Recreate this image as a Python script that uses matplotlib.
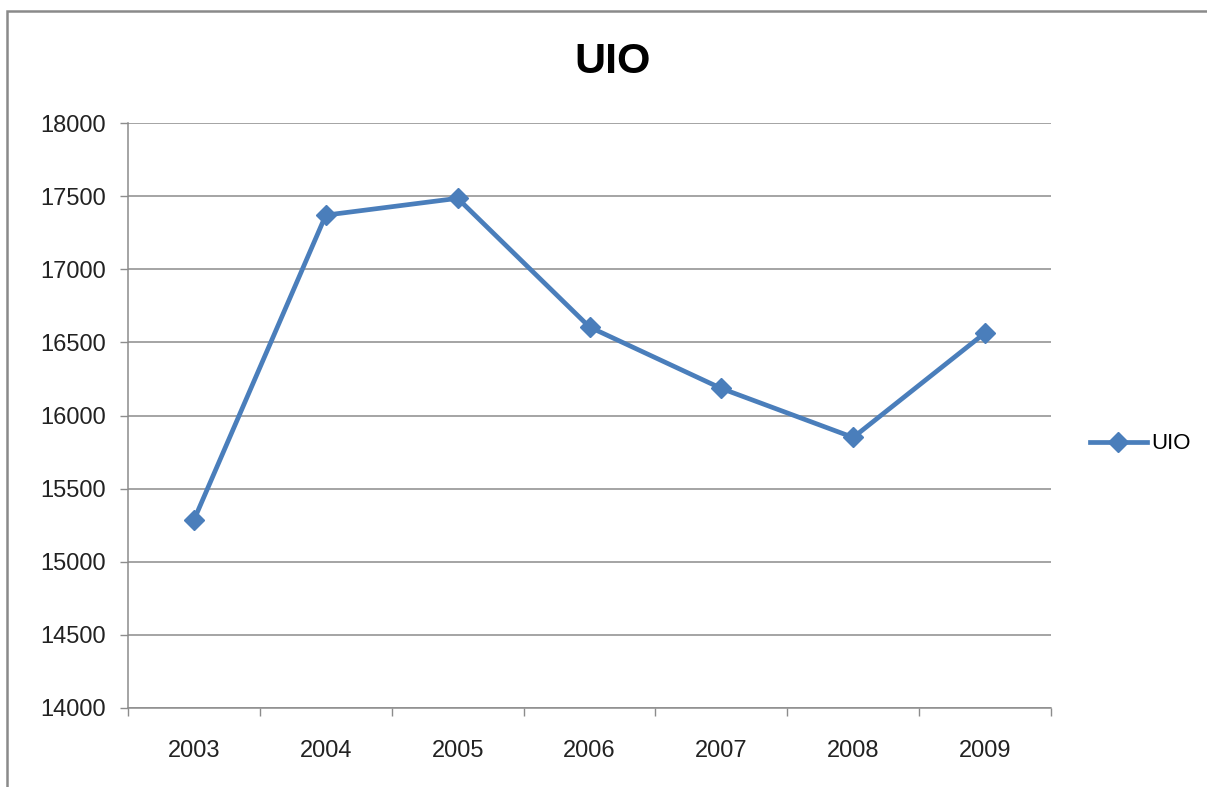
import matplotlib
matplotlib.use("Agg")
import matplotlib.pyplot as plt
from matplotlib.patches import Rectangle
from matplotlib.ticker import FixedLocator, NullFormatter

plt.rcParams["font.family"] = ["Liberation Sans", "DejaVu Sans"]

years = ["2003", "2004", "2005", "2006", "2007", "2008", "2009"]
uio = [15285, 17370, 17485, 16605, 16185, 15850, 16565]

LINE = "#4A7EBB"
GRID = "#8C8C8C"
W, H = 1207, 787

fig = plt.figure(figsize=(W / 100, H / 100), dpi=100)
ax = fig.add_axes([128 / W, 1 - 708 / H, (1051 - 128) / W, (708 - 123) / H])

# chart-area frame (open on the right and bottom)
fig.patches.append(Rectangle((7 / W, -0.05), 1.1, 1.05 - 11 / H,
                             transform=fig.transFigure, fill=False,
                             edgecolor="#8A8A8A", linewidth=1.8))

x = range(len(years))
ax.plot(x, uio, color=LINE, linewidth=3.4, marker="D", markersize=10.5,
        markeredgecolor=LINE, label="UIO")

ax.set_xlim(-0.5, len(years) - 0.5)
ax.set_ylim(14000, 18000)
ax.set_yticks(range(14000, 18001, 500))
ax.yaxis.grid(True, color=GRID, linewidth=1.1)
ax.set_axisbelow(True)

ax.set_xticks(list(x))
ax.set_xticklabels(years)
ax.xaxis.set_minor_locator(FixedLocator([i - 0.5 for i in range(len(years) + 1)]))
ax.xaxis.set_minor_formatter(NullFormatter())
ax.tick_params(axis="x", which="major", length=0, pad=23, labelsize=17, colors="#222222")
ax.tick_params(axis="x", which="minor", length=6, width=1, color=GRID, direction="out")
ax.tick_params(axis="y", length=6, width=1, color=GRID, pad=10, labelsize=17,
               labelcolor="#222222")

for side in ("top", "right"):
    ax.spines[side].set_visible(False)
for side in ("left", "bottom"):
    ax.spines[side].set_color(GRID)
    ax.spines[side].set_linewidth(1.1)

fig.text(613 / W, 1 - 62 / H, "UIO", fontsize=31, fontweight="bold",
         ha="center", va="center")

fig.legend(loc="center left", bbox_to_anchor=(1090 / W, 1 - 444 / H), frameon=False,
           fontsize=16, handlelength=2.55, handletextpad=0.2, borderpad=0,
           borderaxespad=0)

fig.savefig("out.png", dpi=100)
